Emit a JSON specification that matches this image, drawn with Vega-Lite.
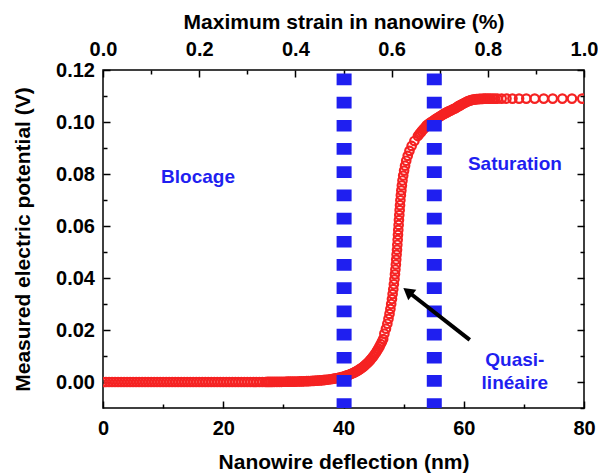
{
  "$schema": "https://vega.github.io/schema/vega-lite/v6.json",
  "width": 481,
  "height": 338,
  "autosize": {"type": "none"},
  "padding": {"left": 103, "top": 70, "right": 14, "bottom": 67},
  "background": "white",
  "datasets": {
    "curve": [
      {"d":0,"v":0},{"d":0.5,"v":0},{"d":1,"v":0},{"d":1.5,"v":0},{"d":2,"v":0},{"d":2.5,"v":0},{"d":3,"v":0},{"d":3.5,"v":0},{"d":4,"v":0},{"d":4.5,"v":0},
      {"d":5,"v":0},{"d":5.5,"v":0},{"d":6,"v":0},{"d":6.5,"v":0},{"d":7,"v":0},{"d":7.5,"v":0},{"d":8,"v":0},{"d":8.5,"v":0},{"d":9,"v":0},{"d":9.5,"v":0},
      {"d":10,"v":0},{"d":10.5,"v":0},{"d":11,"v":0},{"d":11.5,"v":0},{"d":12,"v":0},{"d":12.5,"v":0},{"d":13,"v":0},{"d":13.5,"v":0},{"d":14,"v":0},{"d":14.5,"v":0},
      {"d":15,"v":0},{"d":15.5,"v":0},{"d":16,"v":0},{"d":16.5,"v":0},{"d":17,"v":0},{"d":17.5,"v":0},{"d":18,"v":0},{"d":18.5,"v":0},{"d":19,"v":0},{"d":19.5,"v":0},
      {"d":20,"v":0},{"d":20.5,"v":0},{"d":21,"v":0},{"d":21.5,"v":0},{"d":22,"v":0},{"d":22.5,"v":0},{"d":23,"v":0},{"d":23.5,"v":0},{"d":24,"v":0},{"d":24.5,"v":0},
      {"d":25,"v":0},{"d":25.5,"v":0},{"d":26,"v":0},{"d":26.5,"v":0},{"d":27,"v":0},
      {"d":27.3,"v":0.00004},{"d":27.6,"v":0.00004},{"d":27.9,"v":0.00005},{"d":28.2,"v":0.00005},{"d":28.5,"v":0.00006},{"d":28.8,"v":0.00006},{"d":29.1,"v":0.00007},{"d":29.4,"v":0.00008},{"d":29.7,"v":0.00008},{"d":30.0,"v":0.00009},
      {"d":30.3,"v":0.0001},{"d":30.6,"v":0.00011},{"d":30.9,"v":0.00012},{"d":31.2,"v":0.00013},{"d":31.5,"v":0.00015},{"d":31.8,"v":0.00016},{"d":32.1,"v":0.00018},{"d":32.4,"v":0.0002},{"d":32.7,"v":0.00021},{"d":33.0,"v":0.00024},
      {"d":33.3,"v":0.00026},{"d":33.6,"v":0.00028},{"d":33.9,"v":0.00031},{"d":34.2,"v":0.00034},{"d":34.5,"v":0.00038},{"d":34.8,"v":0.00041},{"d":35.1,"v":0.00045},{"d":35.4,"v":0.0005},{"d":35.7,"v":0.00055},{"d":36.0,"v":0.0006},
      {"d":36.3,"v":0.00066},{"d":36.6,"v":0.00073},{"d":36.9,"v":0.0008},{"d":37.2,"v":0.00087},{"d":37.5,"v":0.00096},{"d":37.8,"v":0.00105},{"d":38.1,"v":0.00116},{"d":38.4,"v":0.00127},{"d":38.7,"v":0.0014},{"d":39.0,"v":0.00153},
      {"d":39.3,"v":0.00168},{"d":39.6,"v":0.00185},{"d":39.9,"v":0.00203},
      {"d":40.2,"v":0.00223},{"d":40.4,"v":0.00238},{"d":40.6,"v":0.00253},{"d":40.8,"v":0.0027},{"d":41.0,"v":0.00287},{"d":41.2,"v":0.00305},{"d":41.4,"v":0.00325},{"d":41.6,"v":0.00346},{"d":41.8,"v":0.00369},{"d":42.0,"v":0.00392},
      {"d":42.2,"v":0.00418},{"d":42.4,"v":0.00445},{"d":42.6,"v":0.00473},{"d":42.8,"v":0.00504},{"d":43.0,"v":0.00536},{"d":43.2,"v":0.00571},{"d":43.4,"v":0.00608},{"d":43.6,"v":0.00647},{"d":43.8,"v":0.00689},{"d":44.0,"v":0.00733},
      {"d":44.2,"v":0.0078},{"d":44.4,"v":0.00831},{"d":44.6,"v":0.00884},{"d":44.8,"v":0.00941},{"d":45.0,"v":0.01002},{"d":45.2,"v":0.01067},{"d":45.4,"v":0.01136},{"d":45.6,"v":0.01209},{"d":45.8,"v":0.01287},{"d":46.0,"v":0.0137},
      {"d":46.2,"v":0.01458},{"d":46.4,"v":0.01553},{"d":46.6,"v":0.01653},
      {"d":46.8,"v":0.0186},{"d":47.06,"v":0.0205},{"d":47.29,"v":0.0224},{"d":47.48,"v":0.0243},{"d":47.65,"v":0.0262},{"d":47.8,"v":0.0281},{"d":47.93,"v":0.03},{"d":48.06,"v":0.0319},{"d":48.17,"v":0.0338},{"d":48.28,"v":0.0357},
      {"d":48.38,"v":0.0376},{"d":48.48,"v":0.0395},{"d":48.56,"v":0.0414},{"d":48.63,"v":0.0433},{"d":48.71,"v":0.0452},{"d":48.77,"v":0.0471},{"d":48.83,"v":0.049},{"d":48.9,"v":0.0509},{"d":48.95,"v":0.0528},{"d":49.01,"v":0.0547},
      {"d":49.06,"v":0.0566},{"d":49.11,"v":0.0585},{"d":49.17,"v":0.0604},{"d":49.22,"v":0.0623},{"d":49.28,"v":0.0642},{"d":49.34,"v":0.0661},{"d":49.4,"v":0.068},{"d":49.46,"v":0.0699},{"d":49.54,"v":0.0718},{"d":49.62,"v":0.0737},
      {"d":49.71,"v":0.0756},{"d":49.81,"v":0.0775},{"d":49.93,"v":0.0794},{"d":50.08,"v":0.0813},{"d":50.24,"v":0.0832},{"d":50.43,"v":0.0851},{"d":50.68,"v":0.087},{"d":50.97,"v":0.0889},{"d":51.33,"v":0.0908},{"d":51.79,"v":0.0927},
      {"d":52.37,"v":0.0946},{"d":52.6,"v":0.0953},
      {"d":52.8,"v":0.0959},{"d":53.0,"v":0.0964},{"d":53.2,"v":0.097},{"d":53.4,"v":0.0975},{"d":53.6,"v":0.098},{"d":53.8,"v":0.0986},{"d":54.0,"v":0.099},{"d":54.2,"v":0.0993},{"d":54.4,"v":0.0997},{"d":54.6,"v":0.1},
      {"d":54.8,"v":0.1003},{"d":55.0,"v":0.1006},{"d":55.2,"v":0.1009},{"d":55.4,"v":0.1012},{"d":55.6,"v":0.1015},{"d":55.8,"v":0.1018},{"d":56.0,"v":0.1021},{"d":56.2,"v":0.1024},{"d":56.4,"v":0.1027},{"d":56.6,"v":0.103},
      {"d":56.8,"v":0.1032},{"d":57.0,"v":0.1035},{"d":57.2,"v":0.1037},{"d":57.4,"v":0.104},{"d":57.6,"v":0.1042},{"d":57.8,"v":0.1044},{"d":58.0,"v":0.1046},{"d":58.2,"v":0.1049},{"d":58.4,"v":0.1051},{"d":58.6,"v":0.1053},
      {"d":58.8,"v":0.1056},{"d":59.0,"v":0.1059},{"d":59.2,"v":0.1062},{"d":59.4,"v":0.1064},{"d":59.6,"v":0.1067},{"d":59.8,"v":0.1069},{"d":60.0,"v":0.1072},{"d":60.2,"v":0.1074},{"d":60.4,"v":0.1077},
      {"d":60.6,"v":0.1079},{"d":60.85,"v":0.1081},{"d":61.1,"v":0.1083},{"d":61.35,"v":0.1085},{"d":61.6,"v":0.1086},{"d":61.85,"v":0.1087},{"d":62.1,"v":0.1088},{"d":62.35,"v":0.1088},{"d":62.6,"v":0.1089},{"d":62.85,"v":0.1089},
      {"d":63.1,"v":0.1089},{"d":63.35,"v":0.109},{"d":63.6,"v":0.109},{"d":63.9,"v":0.109},{"d":64.2,"v":0.109},{"d":64.5,"v":0.109},{"d":64.85,"v":0.109},{"d":65.2,"v":0.109},{"d":65.6,"v":0.109},
      {"d":66.3,"v":0.109},{"d":67.1,"v":0.109},{"d":68.1,"v":0.109},{"d":69.2,"v":0.109},{"d":70.4,"v":0.109},{"d":71.8,"v":0.109},{"d":73.3,"v":0.109},{"d":74.8,"v":0.109},{"d":76.4,"v":0.109},{"d":78.0,"v":0.109},{"d":79.7,"v":0.109}
    ],
    "lines": [{"d": 40.1}, {"d": 55.1}],
    "arrow": [{"x1": 61.0, "y1": 0.0162, "x2": 50.7, "y2": 0.0348}],
    "labels": [
      {"x": 15.8, "y": 0.0788, "t": "Blocage"},
      {"x": 68.5, "y": 0.0838, "t": "Saturation"},
      {"x": 68.5, "y": 0.0085, "t": "Quasi-"},
      {"x": 68.5, "y": -0.0004, "t": "linéaire"}
    ]
  },
  "resolve": {"axis": {"x": "independent", "y": "independent"}},
  "layer": [
    {
      "data": {"name": "curve"},
      "mark": {"type": "point", "shape": "circle", "filled": false, "color": "#f52222", "strokeWidth": 2.2, "size": 72, "opacity": 1, "clip": true},
      "encoding": {
        "x": {"field": "d", "type": "quantitative", "scale": {"domain": [0, 80], "nice": false, "zero": false},
              "axis": {"orient": "bottom", "values": [0, 20, 40, 60, 80], "format": "d", "tickSize": -7, "labelPadding": 17.5, "title": "Nanowire deflection (nm)", "titlePadding": 13}},
        "y": {"field": "v", "type": "quantitative", "scale": {"domain": [-0.01, 0.12], "nice": false, "zero": false},
              "axis": {"orient": "left", "values": [0, 0.02, 0.04, 0.06, 0.08, 0.1, 0.12], "format": ".2f", "tickSize": -7, "labelPadding": 15.5, "title": "Measured electric potential (V)", "titlePadding": 22}}
      }
    },
    {
      "data": {"name": "lines"},
      "mark": {"type": "rule", "color": "#1f1ff0", "strokeWidth": 15, "strokeDash": [11.7, 11.5], "strokeDashOffset": 19.7, "strokeCap": "butt"},
      "encoding": {
        "x": {"field": "d", "type": "quantitative", "scale": {"domain": [0, 80], "nice": false, "zero": false},
              "axis": {"orient": "bottom", "values": [10, 30, 50, 70], "tickSize": -4, "labels": false, "title": null}}
      }
    },
    {
      "data": {"name": "arrow"},
      "mark": {"type": "rule", "color": "black", "strokeWidth": 4},
      "encoding": {
        "x": {"field": "x1", "type": "quantitative", "scale": {"domain": [0, 80], "nice": false, "zero": false},
              "axis": {"orient": "top", "values": [0, 16, 32, 48, 64, 80], "labelExpr": "format(datum.value / 80, '.1f')", "tickSize": -7, "labelPadding": 17.8, "title": "Maximum strain in nanowire (%)", "titlePadding": 6.5}},
        "x2": {"field": "x2"},
        "y": {"field": "y1", "type": "quantitative", "scale": {"domain": [-0.01, 0.12], "nice": false, "zero": false},
              "axis": {"orient": "right", "values": [0, 0.02, 0.04, 0.06, 0.08, 0.1, 0.12], "tickSize": -7, "labels": false, "title": null}},
        "y2": {"field": "y2"}
      }
    },
    {
      "data": {"name": "arrow"},
      "mark": {"type": "point", "shape": "triangle-up", "filled": true, "color": "black", "opacity": 1, "size": 170, "angle": 308},
      "encoding": {
        "x": {"field": "x2", "type": "quantitative", "scale": {"domain": [0, 80], "nice": false, "zero": false},
              "axis": {"orient": "top", "values": [8, 24, 40, 56, 72], "tickSize": -4, "labels": false, "title": null}},
        "y": {"field": "y2", "type": "quantitative", "scale": {"domain": [-0.01, 0.12], "nice": false, "zero": false},
              "axis": {"orient": "right", "values": [-0.01, 0.01, 0.03, 0.05, 0.07, 0.09, 0.11], "tickSize": -4, "labels": false, "title": null}}
      }
    },
    {
      "data": {"name": "labels"},
      "mark": {"type": "text", "color": "#1f1ff0", "font": "Liberation Sans", "fontWeight": "bold", "fontSize": 19, "align": "center", "baseline": "middle"},
      "encoding": {
        "x": {"field": "x", "type": "quantitative", "scale": {"domain": [0, 80], "nice": false, "zero": false}, "axis": null},
        "y": {"field": "y", "type": "quantitative", "scale": {"domain": [-0.01, 0.12], "nice": false, "zero": false},
              "axis": {"orient": "left", "values": [0.01, 0.03, 0.05, 0.07, 0.09, 0.11], "tickSize": -4, "labels": false, "title": null}},
        "text": {"field": "t", "type": "nominal"}
      }
    }
  ],
  "config": {
    "view": {"stroke": "black", "strokeWidth": 1.5},
    "axis": {
      "grid": false, "domain": false, "tickColor": "black", "tickWidth": 1.5,
      "labelFont": "Liberation Sans", "labelFontWeight": "bold", "labelFontSize": 20, "labelColor": "black",
      "titleFont": "Liberation Sans", "titleFontWeight": "bold", "titleFontSize": 21, "titleColor": "black",
      "labelFlush": false, "labelOverlap": false, "labelBound": false
    }
  }
}
